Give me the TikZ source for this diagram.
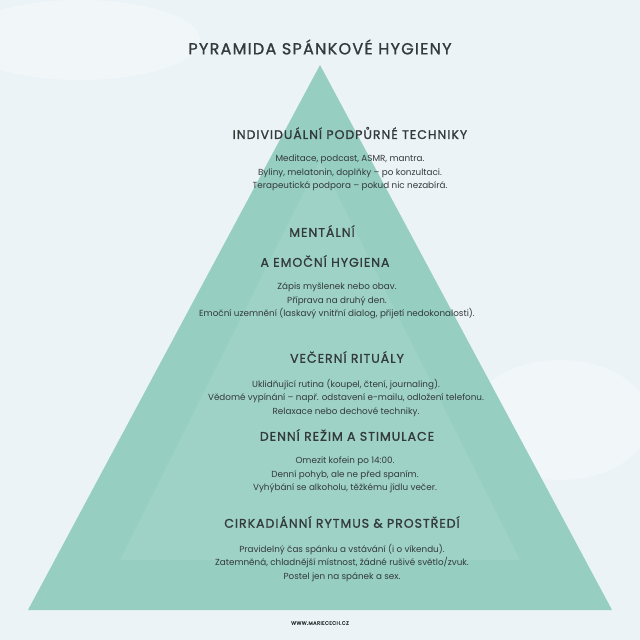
\documentclass[tikz,border=0pt]{standalone}
\usepackage{fontspec}
\setmainfont{Poppins}
\newfontfamily\headf[LetterSpace=8,FakeBold=1.2]{Poppins}
\newfontfamily\bodyf{Poppins}
\definecolor{bg}{HTML}{EBF3F7}
\definecolor{tri}{HTML}{96CEC2}
\definecolor{tril}{HTML}{AEDAD0}
\definecolor{txt}{HTML}{333A3A}
\begin{document}
\begin{tikzpicture}[x=1pt,y=-1pt,
  hd/.style={font=\headf\fontsize{12.5}{14}\selectfont, text=txt},
  bd/.style={font=\bodyf\fontsize{8.8}{13.4}\selectfont, text=txt, align=center}]
\fill[bg] (0,0) rectangle (640,640);
\useasboundingbox (0,0) rectangle (640,640);
\fill[white,opacity=0.3] (80,40) ellipse (120 and 40);
\fill[white,opacity=0.3] (560,420) ellipse (90 and 60);
\fill[tri] (320,65) -- (612,610) -- (28,610) -- cycle;
\fill[tril,opacity=0.35] (320,160) -- (520,560) -- (120,560) -- cycle;
\node[font=\headf\fontsize{16}{18}\selectfont, text=txt] (title) at (320,47) {PYRAMIDA SPÁNKOVÉ HYGIENY};
\node[hd] (h1) at (350,133) {INDIVIDUÁLNÍ PODPŮRNÉ TECHNIKY};
\node[bd] (b1) at (350,173) {Meditace, podcast, ASMR, mantra.\\Byliny, melatonin, doplňky – po konzultaci.\\Terapeutická podpora – pokud nic nezabírá.};
\node[hd] (h2a) at (322,231) {MENTÁLNÍ};
\node[hd] (h2b) at (325,261) {A EMOČNÍ HYGIENA};
\node[bd] (b2) at (337,301) {Zápis myšlenek nebo obav.\\Příprava na druhý den.\\Emoční uzemnění (laskavý vnitřní dialog, přijetí nedokonalosti).};
\node[hd] (h3) at (347,357) {VEČERNÍ RITUÁLY};
\node[bd] (b3) at (346,398) {Uklidňující rutina (koupel, čtení, journaling).\\Vědomé vypínání – např. odstavení e-mailu, odložení telefonu.\\Relaxace nebo dechové techniky.};
\node[hd] (h4) at (347,435) {DENNÍ REŽIM A STIMULACE};
\node[bd] (b4) at (345,475) {Omezit kofein po 14:00.\\Denní pohyb, ale ne před spaním.\\Vyhýbání se alkoholu, těžkému jídlu večer.};
\node[hd] (h5) at (342,522) {CIRKADIÁNNÍ RYTMUS \& PROSTŘEDÍ};
\node[bd] (b5) at (342,563) {Pravidelný čas spánku a vstávání (i o víkendu).\\Zatemněná, chladnější místnost, žádné rušivé světlo/zvuk.\\Postel jen na spánek a sex.};
\node[font=\headf\fontsize{5}{6}\selectfont, text=txt] (foot) at (320,623) {WWW.MARIECECH.CZ};
\end{tikzpicture}
\end{document}
